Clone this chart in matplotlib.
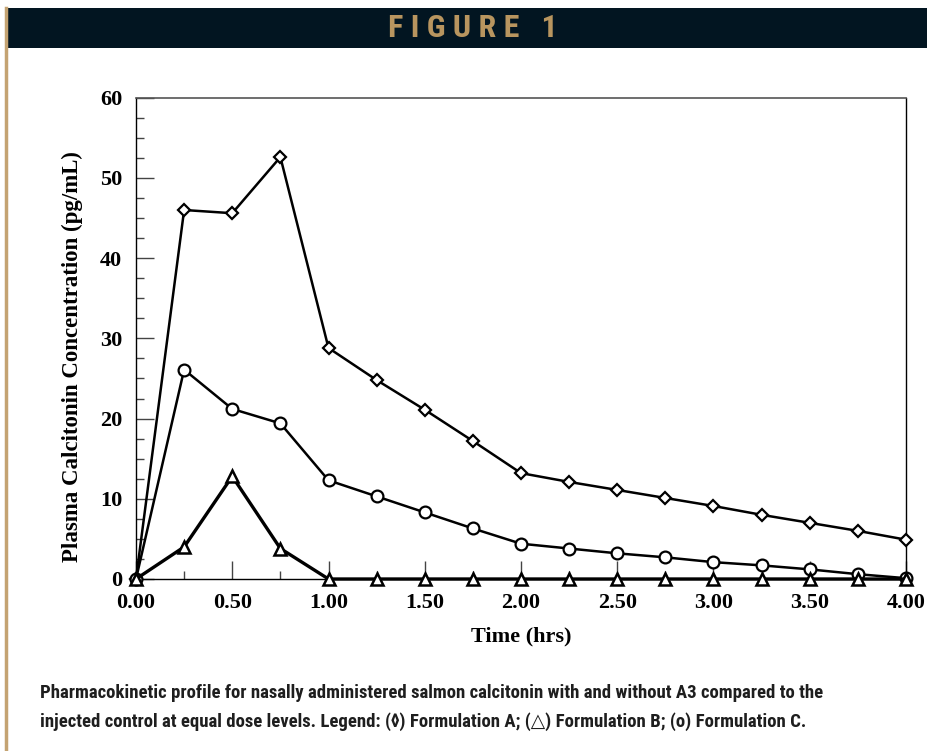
import matplotlib
matplotlib.use("Agg")
import matplotlib.pyplot as plt
from matplotlib import font_manager as fm
from matplotlib.ticker import MultipleLocator, FormatStrFormatter
from matplotlib.patches import Rectangle
from matplotlib.lines import Line2D

time_hrs = [0.0, 0.25, 0.5, 0.75, 1.0, 1.25, 1.5, 1.75, 2.0, 2.25, 2.5, 2.75, 3.0, 3.25, 3.5, 3.75, 4.0]
form_a = [0.0, 46.0, 45.6, 52.6, 28.8, 24.8, 21.1, 17.2, 13.2, 12.1, 11.1, 10.1, 9.1, 8.0, 7.0, 6.0, 4.9]
form_b = [0.0, 4.0, 12.8, 3.8, 0.0, 0.0, 0.0, 0.0, 0.0, 0.0, 0.0, 0.0, 0.0, 0.0, 0.0, 0.0, 0.0]
form_c = [0.0, 26.1, 21.2, 19.4, 12.3, 10.3, 8.3, 6.3, 4.4, 3.8, 3.2, 2.7, 2.1, 1.7, 1.2, 0.6, 0.1]

x_label = "Time (hrs)"
y_label = "Plasma Calcitonin Concentration (pg/mL)"
header = "F I G U R E   1"
caption_lines = [
    "Pharmacokinetic profile for nasally administered salmon calcitonin with and without A3 compared to the",
    "injected control at equal dose levels. Legend: (\u25ca) Formulation A; (\u25b3) Formulation B; (o) Formulation C.",
]

installed = set(f.name for f in fm.fontManager.ttflist)
def pick(cands):
    fams = [c for c in cands if c in installed]
    return fams + ["DejaVu Sans"]

cond = pick(["Roboto Condensed", "Archivo Narrow", "PT Sans Narrow", "Liberation Sans Narrow",
             "Open Sans Condensed", "Barlow Condensed"])
serif = pick(["Liberation Serif", "Tinos", "DejaVu Serif"])

W, H = 927, 751
fig = plt.figure(figsize=(W / 100, H / 100), dpi=100)
fig.patch.set_facecolor("white")

# header band and left border
fig.patches.append(Rectangle((5 / W, 1 - 48 / H), 1 - 5 / W, 40 / H, transform=fig.transFigure,
                             facecolor="#021521", edgecolor="none", zorder=0))
fig.add_artist(Line2D([6 / W, 6 / W], [0, 1 - 8 / H], transform=fig.transFigure,
                      color="#c4a372", lw=2.5))
fig.text(473 / W, 1 - 28 / H, header, ha="center", va="center", color="#b8955f",
         fontsize=23, fontweight="bold", family=cond)

ax = fig.add_axes([136 / W, 1 - 579 / H, (906 - 136) / W, (579 - 97.7) / H])

lw = 1.8
ax.plot(time_hrs, form_a, color="black", lw=lw, marker="D", ms=6.4, mfc="white", mec="black",
        mew=1.6, clip_on=False, zorder=3)
ax.plot(time_hrs, form_c, color="black", lw=lw, marker="o", ms=8.5, mfc="white", mec="black",
        mew=1.6, clip_on=False, zorder=3)
ax.plot(time_hrs, form_b, color="black", lw=2.4, marker="^", ms=8.0, mfc="white", mec="black",
        mew=1.8, clip_on=False, zorder=4)

ax.set_xlim(0, 4)
ax.set_ylim(0, 60)
ax.xaxis.set_major_locator(MultipleLocator(0.5))
ax.xaxis.set_minor_locator(MultipleLocator(0.25))
ax.yaxis.set_major_locator(MultipleLocator(10))
ax.yaxis.set_minor_locator(MultipleLocator(2.5))
ax.xaxis.set_major_formatter(FormatStrFormatter("%.2f"))
ax.tick_params(which="both", direction="in", color="#444444", width=1.0, top=False, right=False)
ax.tick_params(which="major", length=13)
ax.tick_params(which="minor", length=6)
ax.tick_params(axis="x", which="major", pad=10)
ax.tick_params(axis="y", which="major", pad=10)

for lab in ax.get_xticklabels() + ax.get_yticklabels():
    lab.set_family(serif)
    lab.set_fontweight("bold")
    lab.set_fontsize(16)

for side in ["left", "right", "bottom"]:
    ax.spines[side].set_color("black")
    ax.spines[side].set_linewidth(1.0)
ax.spines["top"].set_color("#555555")
ax.spines["top"].set_linewidth(1.2)

ax.set_xlabel(x_label, family=serif, fontweight="bold", fontsize=16, va="center")
ax.xaxis.set_label_coords(0.5, (579 - 636) / (579 - 97.7))
ax.set_ylabel(y_label, family=serif, fontweight="bold", fontsize=16.5, va="center")
ax.yaxis.set_label_coords((72 - 136) / (906 - 136), (579 - 357) / (579 - 97.7))

# caption, sized so the first line spans the same width as the reference
cap = []
for i, line in enumerate(caption_lines):
    cap.append(fig.text(40 / W, 1 - (693 + 29 * i) / H, line, ha="left", va="center", fontsize=12,
                        fontweight="bold", family=cond, color="#1e1e1e"))
fig.canvas.draw()
r = fig.canvas.get_renderer()
w0 = cap[0].get_window_extent(r).width
size = 12 * 785 / w0
for t in cap:
    t.set_fontsize(size)

fig.savefig("out.png", dpi=100)
